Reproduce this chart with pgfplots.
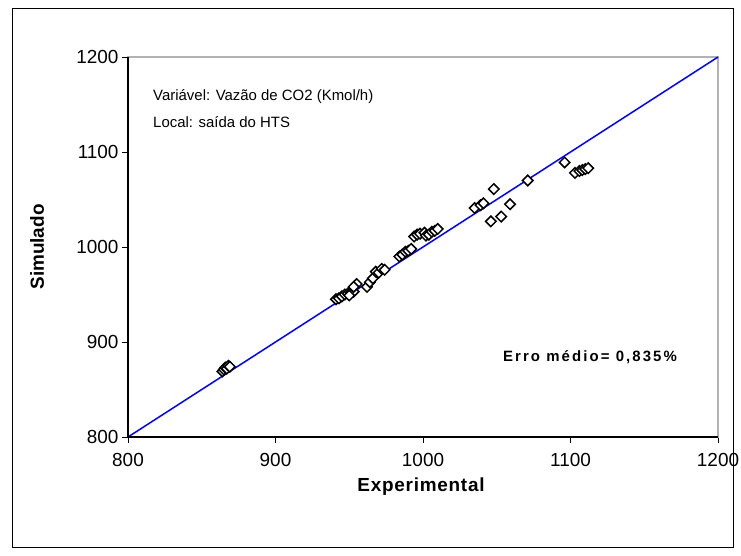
\documentclass[border=0pt]{standalone}
\usepackage{fontspec}
\setmainfont{Liberation Sans}
\usepackage{pgfplots}
\pgfplotsset{compat=1.18}
\begin{document}
\begin{tikzpicture}[x=1bp,y=1bp]
\path[use as bounding box] (0,0) rectangle (741,556);
% chart frame
\draw[black, line width=1bp] (12,8) rectangle (733,547);
\begin{axis}[
  at={(128bp,119bp)}, anchor=south west,
  scale only axis, width=590bp, height=380bp,
  xmin=800, xmax=1200, ymin=800, ymax=1200,
  xtick={800,900,1000,1100,1200},
  ytick={800,900,1000,1100,1200},
  xtick pos=lower, ytick pos=left,
  tick align=outside, major tick length=6bp,
  tick style={black, line width=0.8bp},
  axis line style={gray!60, line width=1.2bp},
  ticklabel style={font=\fontsize{19}{19}\selectfont},
  xticklabel style={yshift=-7bp},
  /pgf/number format/assume math mode=true,
  /pgf/number format/set thousands separator={},
  clip=false,
  after end axis/.code={
    \draw[black, line width=1.2bp] (rel axis cs:0,1) -- (rel axis cs:0,0) -- (rel axis cs:1,0);
  },
]
% line of perfect agreement
\addplot[blue, line width=1.5bp, no marks] coordinates {(800,800) (1200,1200)};
% simulated vs. experimental CO2 flow
\addplot[only marks, mark=square*, mark size=3.7bp,
  mark options={rotate=45, fill=white, draw=black, line width=1.5bp}]
coordinates {
(864,869) (865,871) (866,873) (867,872) (868,875) (869,874)
(941,945) (943,946) (945,948) (947,950) (949,951) (951,952) (953,953) (950,949) (955,961) (953,958)
(962,958) (964,963) (966,967) (968,974) (970,973) (972,977) (974,976)
(984,990) (986,992) (988,995) (990,996) (992,998) (994,1011) (996,1013) (998,1014)
(1001,1015) (1002,1012) (1004,1013) (1006,1016) (1008,1017) (1010,1019)
(1035,1041) (1039,1044) (1041,1046) (1048,1061) (1046,1027) (1053,1032) (1059,1045) (1071,1070)
(1096,1089) (1103,1078) (1106,1080) (1108,1081) (1110,1082) (1112,1083)
};
\end{axis}
\node[font=\bfseries\fontsize{19}{19}\selectfont\addfontfeature{LetterSpace=4}] at (421,69) {Experimental};
\node[rotate=90, font=\bfseries\fontsize{19}{19}\selectfont] at (37,309) {Simulado};
\node[anchor=west, inner sep=0pt, font=\fontsize{15}{15}\selectfont] at (153,459) {Variável: Vazão de CO2 (Kmol/h)};
\node[anchor=west, inner sep=0pt, font=\fontsize{15}{15}\selectfont] at (153,434) {Local: saída do HTS};
\node[font=\bfseries\fontsize{15}{15}\selectfont\addfontfeature{LetterSpace=14}] at (590,199) {Erro médio= 0,835\%};
\end{tikzpicture}
\end{document}
